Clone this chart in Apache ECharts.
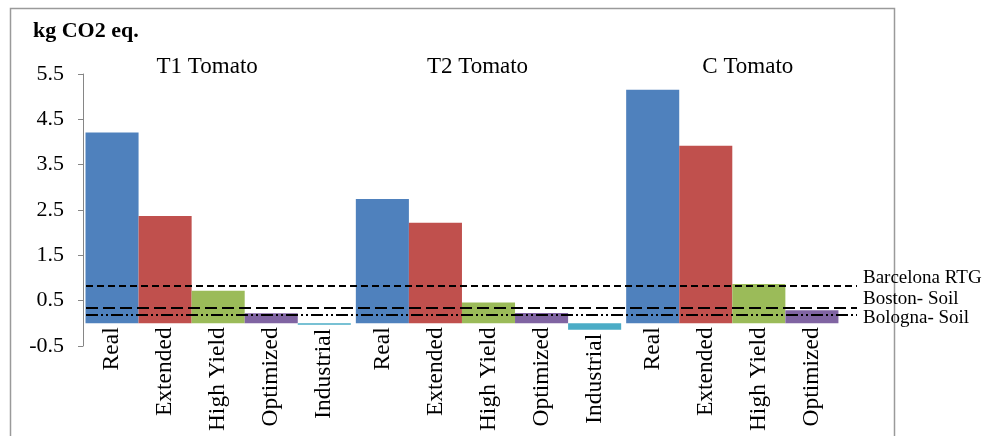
<!DOCTYPE html>
<html>
<head>
<meta charset="utf-8">
<script src="https://cdn.jsdelivr.net/npm/echarts@6/dist/echarts.min.js"></script>
<style>html,body{margin:0;padding:0;background:#fff;}#c{width:987px;height:436px;}</style>
</head>
<body>
<div id="c"></div>
<script>
// ---- data ----
var groups = ['T1 Tomato', 'T2 Tomato', 'C Tomato'];
var scenarios = ['Real', 'Extended', 'High Yield', 'Optimized', 'Industrial'];
var realVals = [4.21, 2.74, 5.15];
var extendedVals = [2.37, 2.22, 3.92];
var highYieldVals = [0.72, 0.46, 0.87];
var optimizedVals = [0.22, 0.23, 0.29];
var industrialVals = [-0.03, -0.14, null];
var refNames = ['Barcelona RTG', 'Boston- Soil', 'Bologna- Soil'];
var refVals = [0.83, 0.35, 0.20];
var yTickLabels = ['-0.5', '0.5', '1.5', '2.5', '3.5', '4.5', '5.5'];
var yLabel = 'kg CO2 eq.';

// ---- style ----
var FONT = 'Liberation Serif';
var colors = ['#4F81BD', '#C0504D', '#9BBB59', '#8064A2', '#4BACC6'];
var seriesVals = [realVals, extendedVals, highYieldVals, optimizedVals, industrialVals];
var refStyles = [
  {type: [7, 4], width: 2},
  {type: [12, 5], width: 2},
  {type: [12, 3, 2, 3, 2, 3], width: 2}
];
// label vertical shift (spacer line height, above or below the text)
var refShift = [{h: 15.4, below: true}, {h: 16, below: true}, {h: 8, below: false}];

var chart = echarts.init(document.getElementById('c'), null, {renderer: 'canvas'});

var series = scenarios.map(function (name, i) {
  var s = {
    name: name,
    type: 'bar',
    xAxisIndex: 0,
    yAxisIndex: 0,
    barGap: '0%',
    barCategoryGap: '1.85%',
    data: seriesVals[i].map(function (v) { return v == null ? '-' : v; }),
    itemStyle: {color: colors[i]},
    label: {
      show: true,
      position: 'bottom',
      distance: 4,
      rotate: 90,
      align: 'right',
      verticalAlign: 'middle',
      formatter: function (p) { return p.seriesName; },
      fontFamily: FONT,
      fontSize: 23.5,
      color: '#000'
    },
    emphasis: {disabled: true},
    animation: false
  };
  if (i === 0) {
    s.markLine = {
      silent: true,
      symbol: 'none',
      animation: false,
      data: refNames.map(function (n, k) {
        var sh = refShift[k];
        var txt = sh.below ? '{t|' + n + '}\n{s| }' : '{s| }\n{t|' + n + '}';
        return [
          {yAxis: refVals[k], x: 86, name: n,
           lineStyle: {color: '#000', type: refStyles[k].type, width: refStyles[k].width},
           label: {show: true, position: 'end', distance: 6, formatter: txt,
                   fontFamily: FONT, fontSize: 19, color: '#000',
                   rich: {
                     t: {fontFamily: FONT, fontSize: 19, lineHeight: 19, color: '#000'},
                     s: {fontSize: 4, lineHeight: sh.h}
                   }}},
          {yAxis: refVals[k], x: 857}
        ];
      })
    };
  }
  return s;
});

var option = {
  backgroundColor: '#fff',
  animation: false,
  grid: {left: 83, right: 93, top: 74, bottom: 90, containLabel: false},
  xAxis: [
    {type: 'category', data: groups, position: 'bottom',
     axisLine: {show: false}, axisTick: {show: false}, axisLabel: {show: false}, splitLine: {show: false}},
    {type: 'category', data: groups, position: 'top', offset: -10,
     axisLine: {show: false}, axisTick: {show: false}, splitLine: {show: false},
     axisLabel: {show: true, margin: 6, fontFamily: FONT, fontSize: 23, color: '#000', padding: [0, 22, 0, 0]}}
  ],
  yAxis: [
    {type: 'value', min: -0.5, max: 5.5, show: false, splitLine: {show: false}},
    {type: 'value', min: 0, max: 6, interval: 1, position: 'left',
     axisLine: {show: true, lineStyle: {color: '#868686', width: 1}},
     axisTick: {show: true, length: 5, lineStyle: {color: '#868686'}},
     splitLine: {show: false},
     axisLabel: {margin: 19, fontFamily: FONT, fontSize: 22, color: '#000',
       formatter: function (v) { return yTickLabels[Math.round(v)]; }}}
  ],
  graphic: [
    {type: 'polyline', silent: true, z: 0,
     shape: {points: [[10.5, 437], [10.5, 8.5], [894.5, 8.5], [894.5, 437]]},
     style: {stroke: '#9a9a9a', lineWidth: 1.5, fill: null}},
    {type: 'text', left: 33, top: 20, silent: true,
     style: {text: yLabel, font: 'bold 22px "Liberation Serif"', fill: '#000'}}
  ],
  series: series
};
chart.setOption(option);
</script>
</body>
</html>
